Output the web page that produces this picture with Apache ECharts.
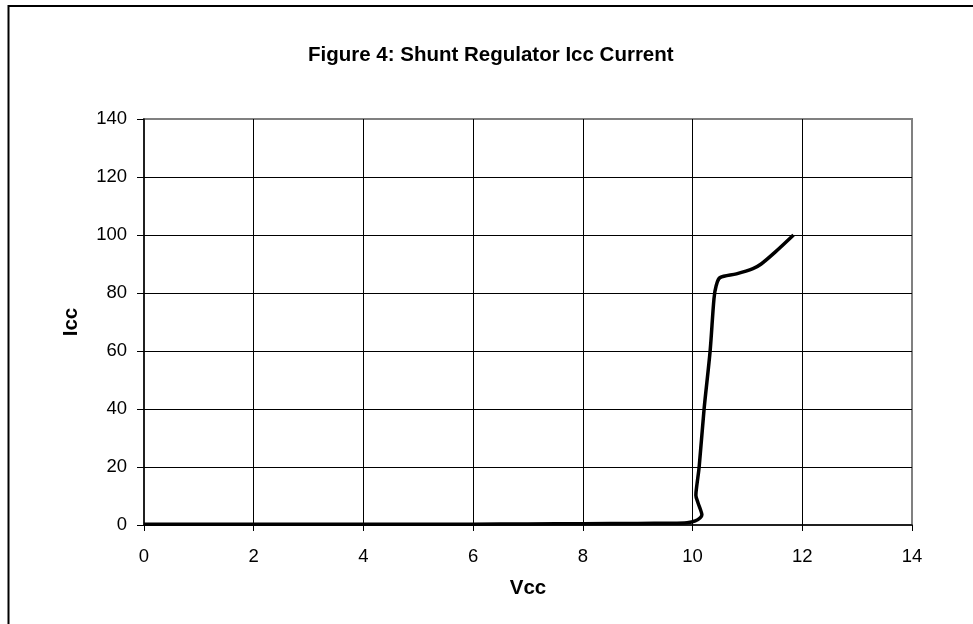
<!DOCTYPE html>
<html>
<head>
<meta charset="utf-8">
<title>Shunt Regulator Icc Current</title>
<script src="https://cdn.jsdelivr.net/npm/echarts@6/dist/echarts.min.js"></script>
<style>
  html, body {
    margin: 0;
    padding: 0;
    background: #fff;
  }
  #chart {
    width: 973px;
    height: 624px;
  }
</style>
</head>
<body>
<div id="chart"></div>
<script>
// Vcc (V) and Icc
const vcc = [0, 1, 2, 3, 4, 5, 6, 7, 8, 9, 9.6, 9.9, 10.05, 10.14, 10.17, 10.14, 10.1, 10.06, 10.08, 10.12, 10.21, 10.32, 10.39, 10.43, 10.5, 10.8, 11.1, 11.25, 11.5, 11.84]
const icc = [0.3, 0.3, 0.3, 0.3, 0.3, 0.3, 0.3, 0.35, 0.45, 0.55, 0.6, 0.8, 1.4, 2.5, 3.5, 5.5, 7.6, 10.3, 14, 20, 40, 60, 78, 82.5, 85.3, 86.6, 88.4, 90, 94, 100]

const xTicks = [0, 2, 4, 6, 8, 10, 12, 14]
const yTicks = [0, 20, 40, 60, 80, 100, 120, 140]

const points = vcc.map((v, i) => [v, icc[i]])

const font = 'Liberation Sans, Arial, sans-serif'

const chart = echarts.init(document.getElementById('chart'))

const option = {
  animation: false,
  backgroundColor: '#fff',
  title: {
    text: 'Figure 4: Shunt Regulator Icc Current',
    left: 308,
    top: 45,
    padding: 0,
    textStyle: {
      fontFamily: font,
      fontSize: 20.5,
      fontWeight: 'bold',
      color: '#000',
    },
  },
  graphic: [
    {
      // outer chart frame, only its left and top edges are visible
      type: 'rect',
      shape: { x: 8.5, y: 6, width: 1200, height: 1000 },
      style: { fill: null, stroke: '#000', lineWidth: 2 },
      silent: true,
      z: -1,
    },
  ],
  grid: {
    left: 144,
    right: 61,
    top: 119,
    bottom: 99,
    show: true,
    borderColor: '#808080',
    borderWidth: 2,
    backgroundColor: '#fff',
    containLabel: false,
    outerBoundsMode: 'none',
  },
  xAxis: {
    type: 'value',
    min: xTicks[0],
    max: xTicks[xTicks.length - 1],
    interval: 2,
    name: 'Vcc',
    nameLocation: 'middle',
    nameGap: 53,
    nameTextStyle: {
      fontFamily: font,
      fontSize: 20.5,
      fontWeight: 'bold',
      color: '#000',
    },
    axisLine: { show: true, lineStyle: { color: '#000', width: 1.5 } },
    axisTick: { show: true, inside: false, length: 6, lineStyle: { color: '#000' } },
    axisLabel: {
      margin: 22,
      fontFamily: font,
      fontSize: 18.5,
      color: '#000',
    },
    splitLine: {
      show: true,
      showMinLine: false,
      showMaxLine: false,
      lineStyle: { color: '#000', width: 1 },
    },
  },
  yAxis: {
    type: 'value',
    min: yTicks[0],
    max: yTicks[yTicks.length - 1],
    interval: 20,
    name: 'Icc',
    nameLocation: 'middle',
    nameGap: 62,
    nameTextStyle: {
      fontFamily: font,
      fontSize: 20.5,
      fontWeight: 'bold',
      color: '#000',
    },
    axisLine: { show: true, lineStyle: { color: '#000', width: 1.5 } },
    axisTick: { show: true, inside: false, length: 7, lineStyle: { color: '#000' } },
    axisLabel: {
      margin: 17,
      fontFamily: font,
      fontSize: 18.5,
      color: '#000',
    },
    splitLine: {
      show: true,
      showMinLine: false,
      showMaxLine: false,
      lineStyle: { color: '#000', width: 1 },
    },
  },
  series: [
    {
      type: 'line',
      data: points,
      showSymbol: false,
      smooth: 0.3,
      lineStyle: { color: '#000', width: 3.5 },
      z: 5,
    },
  ],
}

chart.setOption(option)
</script>
</body>
</html>
